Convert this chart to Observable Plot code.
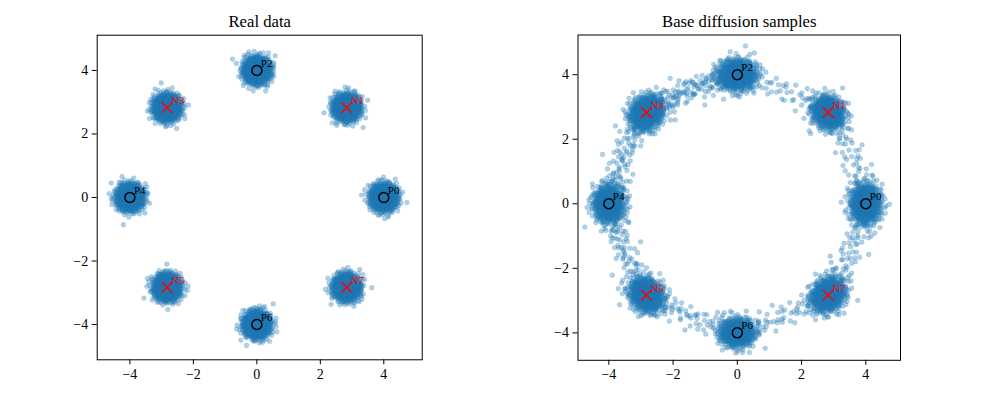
<!DOCTYPE html>
<html>
<head>
<meta charset="utf-8">
<script src="https://cdn.jsdelivr.net/npm/d3@7"></script>
<script src="https://cdn.jsdelivr.net/npm/@observablehq/plot@0.6"></script>
<style>
  html, body { margin: 0; padding: 0; background: #fff; }
  #chart { position: relative; width: 996px; height: 399px; overflow: hidden; }
  #chart svg { position: absolute; left: 0; top: 0; }
</style>
</head>
<body>
<div id="chart"></div>
<script>
// ---- Data ----
const panelTitles = ["Real data", "Base diffusion samples"];
const tickValues = [-4, -2, 0, 2, 4];

// Reference points (labels and centres)
const centerLabels = ["P0", "N1", "P2", "N3", "P4", "N5", "P6", "N7"];
const centerX = [4, 2.83, 0, -2.83, -4, -2.83, 0, 2.83];
const centerY = [0, 2.83, 4, 2.83, 0, -2.83, -4, -2.83];
const centerAngleDeg = [0, 45, 90, 135, 180, 225, 270, 315];

// Real data clusters: point count and spread (std) per cluster
const realCount = [1000, 1000, 1000, 1000, 1000, 1000, 1000, 1000];
const realSpread = [0.2, 0.2, 0.2, 0.2, 0.2, 0.2, 0.2, 0.2];

// Base diffusion clusters: count, tangential spread, radial spread
const diffCount = [700, 650, 750, 700, 700, 700, 650, 700];
const diffSpreadTan = [0.30, 0.26, 0.28, 0.28, 0.28, 0.28, 0.26, 0.28];
const diffSpreadRad = [0.23, 0.23, 0.23, 0.23, 0.23, 0.23, 0.21, 0.23];
// Scattered samples along the ring between neighbouring clusters
// segments: P0-N1, N1-P2, P2-N3, N3-P4, P4-N5, N5-P6, P6-N7, N7-P0
const bridgeCount = [70, 55, 150, 110, 100, 75, 65, 85];
const bridgeRadius = [3.9, 3.85, 3.85, 3.85, 3.85, 3.8, 3.8, 3.85];
const bridgeSpread = [0.22, 0.2, 0.2, 0.22, 0.22, 0.2, 0.2, 0.22];

// ---- Deterministic low-discrepancy sampling of the clouds ----
function halton(i, b) { let f = 1, r = 0; while (i > 0) { f /= b; r += f * (i % b); i = Math.floor(i / b); } return r; }
function gaussPair(j, b1, b2) {
  const u1 = Math.max(1e-6, halton(j, b1)), u2 = halton(j, b2);
  const m = Math.sqrt(-2 * Math.log(u1));
  return [m * Math.cos(2 * Math.PI * u2), m * Math.sin(2 * Math.PI * u2)];
}

const realPoints = [];
centerLabels.forEach((_, k) => {
  for (let i = 0; i < realCount[k]; i++) {
    const [a, b] = gaussPair(k * 2003 + i + 1, 2, 3);
    realPoints.push({x: centerX[k] + a * realSpread[k], y: centerY[k] + b * realSpread[k]});
  }
});

const diffPoints = [];
centerLabels.forEach((_, k) => {
  const th = centerAngleDeg[k] * Math.PI / 180;
  const tx = -Math.sin(th), ty = Math.cos(th), rx = Math.cos(th), ry = Math.sin(th);
  for (let i = 0; i < diffCount[k]; i++) {
    const [a, b] = gaussPair(k * 3001 + i + 17, 2, 3);
    const t = a * diffSpreadTan[k], r = b * diffSpreadRad[k];
    diffPoints.push({x: centerX[k] + t * tx + r * rx, y: centerY[k] + t * ty + r * ry});
  }
  const a0 = centerAngleDeg[k], a1 = a0 + 45;
  for (let i = 0; i < bridgeCount[k]; i++) {
    const j = k * 503 + i + 5;
    const ang = (a0 + (a1 - a0) * halton(j, 5)) * Math.PI / 180;
    const [z] = gaussPair(j, 7, 11);
    const rad = bridgeRadius[k] + z * bridgeSpread[k];
    diffPoints.push({x: rad * Math.cos(ang), y: rad * Math.sin(ang)});
  }
});

const centers = centerLabels.map((label, k) => ({label, x: centerX[k], y: centerY[k], pos: label[0] === "P"}));

function panel(title, pts, domX, domY, m) {
  return Plot.plot({
    width: 996, height: 399,
    marginLeft: m[0], marginRight: m[1], marginTop: m[2], marginBottom: m[3],
    style: {fontFamily: "'Liberation Serif', 'Times New Roman', serif", fontSize: "14px", background: "transparent", color: "#000"},
    x: {domain: domX, label: null},
    y: {domain: domY, label: null},
    marks: [
      Plot.dot(pts, {x: "x", y: "y", r: 2.4, fill: "#1f77b4", fillOpacity: 0.35, stroke: "#1f77b4", strokeOpacity: 0.2, strokeWidth: 0.8}),
      Plot.dot(centers.filter(d => d.pos), {x: "x", y: "y", r: 5, stroke: "#000", strokeWidth: 1.5, fill: "none"}),
      Plot.dot(centers.filter(d => !d.pos), {x: "x", y: "y", r: 5, symbol: "times", stroke: "#ff0000", strokeWidth: 1.5}),
      Plot.text(centers, {x: "x", y: "y", text: "label", dx: 4, dy: -7, textAnchor: "start", fontSize: 11, fill: d => d.pos ? "#000" : "#ff0000"}),
      Plot.frame({stroke: "#000", strokeWidth: 1}),
      Plot.axisX({ticks: tickValues, tickSize: 5, tickPadding: 4, label: null, fontSize: 14}),
      Plot.axisY({ticks: tickValues, tickSize: 5, tickPadding: 4, label: null, fontSize: 14}),
      Plot.text([title], {frameAnchor: "top", dy: -8, lineAnchor: "bottom", fontSize: 16.7})
    ]
  });
}

const chart = document.getElementById("chart");
chart.appendChild(panel(panelTitles[0], realPoints, [-5.03, 5.21], [-5.11, 5.11], [96.7, 574.3, 34.7, 39.7]));
chart.appendChild(panel(panelTitles[1], diffPoints, [-4.96, 5.08], [-4.85, 5.23], [577.5, 96, 34.5, 39.2]));
</script>
</body>
</html>
